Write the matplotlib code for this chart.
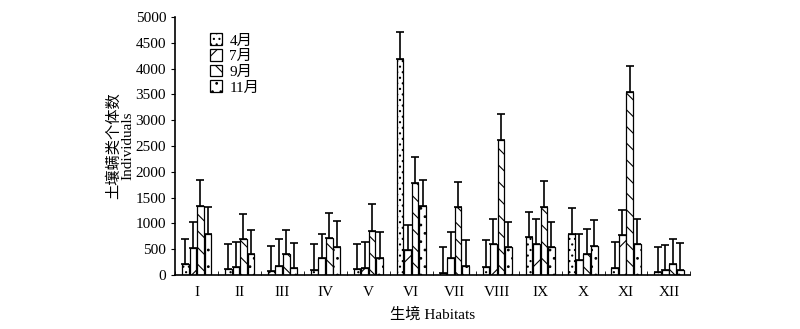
import numpy as np
from matplotlib import pyplot as plt

plt.rcParams['font.family'] = ['Liberation Serif', 'Noto Sans CJK SC']
plt.rcParams['hatch.linewidth'] = 0.8

habitats = ['I', 'II', 'III', 'IV', 'V', 'VI', 'VII', 'VIII', 'IX', 'X', 'XI', 'XII']
months = ['4月', '7月', '9月', '11月']

apr = [213, 110, 77, 97, 116, 4197, 33, 155, 734, 789, 129, 64]
jul = [528, 148, 180, 322, 142, 477, 335, 606, 606, 284, 772, 97]
sep = [1340, 695, 400, 721, 856, 1784, 1320, 2620, 1320, 413, 3540, 207]
nov = [805, 400, 129, 547, 335, 1346, 174, 541, 541, 560, 606, 97]

# tops of the error bars
apr_top = [695, 593, 567, 599, 599, 4710, 541, 670, 1224, 1292, 631, 547]
jul_top = [1023, 631, 695, 792, 644, 979, 838, 1089, 1089, 789, 1255, 580]
sep_top = [1834, 1178, 882, 1203, 1371, 2297, 1803, 3116, 1828, 902, 4054, 690]
nov_top = [1320, 882, 625, 1049, 837, 1847, 689, 1030, 1030, 1062, 1089, 613]

values = [apr, jul, sep, nov]
tops = [apr_top, jul_top, sep_top, nov_top]
hatches = ['...', '/', '\\\\', '..']

fig = plt.figure(figsize=(8, 3.29), dpi=100)
ax = fig.add_axes([0.219, 0.164, 0.644, 0.784])

x = np.arange(len(habitats))
w = 0.155
step = 0.175
for i in range(4):
    xs = x + (i - 1.5) * step
    v = np.array(values[i])
    err = np.array(tops[i]) - v
    ax.bar(xs, v, width=w, facecolor='white', edgecolor='black',
           linewidth=0.9, hatch=hatches[i], label=months[i], zorder=2)
    ax.errorbar(xs, v, yerr=[np.zeros_like(err), err], fmt='none',
                ecolor='black', elinewidth=1.2, capsize=3, capthick=1.2, zorder=3)

ax.set_xlim(-0.5, 11.5)
ax.set_ylim(0, 5000)
ax.set_yticks(range(0, 5001, 500))
ax.tick_params(axis='y', direction='out', length=3, labelsize=11)
ax.set_xticks(x)
ax.set_xticklabels(habitats, fontsize=11)
ax.tick_params(axis='x', length=0, pad=8)
ax.set_xticks(np.arange(-0.5, 12, 1), minor=True)
ax.tick_params(axis='x', which='minor', direction='in', length=3)
ax.spines['top'].set_visible(False)
ax.spines['right'].set_visible(False)
ax.spines['left'].set_linewidth(1.2)
ax.spines['bottom'].set_linewidth(1.2)

ax.set_xlabel('生境 Habitats', fontsize=11, labelpad=6)
ax.set_ylabel('土壤螨类个体数\nIndividuals', fontsize=11, labelpad=1, linespacing=1.0)

ax.legend(loc='upper left', bbox_to_anchor=(0.04, 0.99), frameon=False,
          fontsize=11, handlelength=0.8, handleheight=0.8, handletextpad=0.5,
          labelspacing=0.1)

fig.savefig('out.png', dpi=100)
